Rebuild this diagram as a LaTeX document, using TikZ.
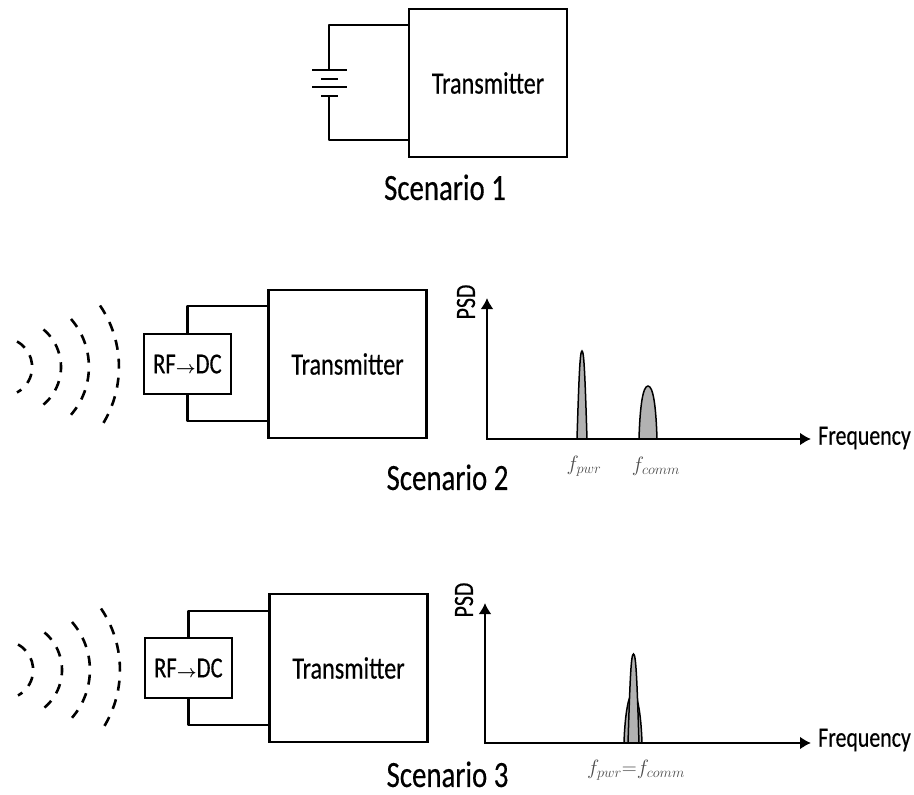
\documentclass[tikz,border=0pt]{standalone}
\usepackage{amsmath}
\usepackage{fontspec}
\setmainfont{Carlito}[FakeStretch=0.78,FakeBold=0.4]
\usepackage{tikz}
\usetikzlibrary{positioning,arrows.meta}

\tikzset{
	txbox/.style={draw, line width=2.6pt, minimum width=158pt, minimum height=148pt, inner sep=0pt, font=\fontsize{31}{31}\selectfont},
	rfbox/.style={draw, line width=2.6pt, minimum width=87pt, minimum height=60pt, inner sep=0pt, font=\fontsize{29}{29}\selectfont},
	caption/.style={inner sep=0pt, font=\fontsize{37}{37}\selectfont},
	axlabel/.style={inner sep=0pt, font=\fontsize{28}{28}\selectfont},
	freqlabel/.style={inner sep=0pt, text=black!70, font=\fontsize{21}{21}\selectfont},
	wire/.style={line width=2.6pt, line join=round},
	wavefront/.style={line width=2.6pt, dash pattern=on 10pt off 9pt},
	axis/.style={line width=2.6pt, {Latex[length=11pt,width=13pt]}-{Latex[length=11pt,width=13pt]}},
	peak/.style={draw=black, fill=black!30, line width=1.5pt},
}
\newcommand{\rfarrow}{{\fontsize{17}{17}\selectfont$\boldsymbol{\rightarrow}$}}

\begin{document}
\begin{tikzpicture}[x=1pt,y=-1pt]
	\useasboundingbox (0,0) rectangle (914,795);

	% scenario 1
	\node[txbox] (tx1) at (488,83) {Transmitter};
	\node[caption, below=16pt of tx1, xshift=-43pt] (scen1) {Scenario 1};
	\coordinate (battop) at (329,70);
	\coordinate (batbot) at (329,96);
	\draw[wire] ([yshift=58pt]tx1.west) -| (battop);
	\draw[wire] ([yshift=-57pt]tx1.west) -| (batbot);
	\draw[wire] (312,70) -- (347,70);
	\draw[wire] (321,79) -- (338,79);
	\draw[wire] (312,87) -- (347,87);
	\draw[wire] (321,96) -- (338,96);

	% scenario 2
	\node[txbox] (tx2) at (347.5,364) {Transmitter};
	\node[rfbox, left=35pt of tx2] (rfdc2) {RF\rfarrow DC};
	\node[caption, below=25pt of tx2, xshift=100pt] (scen2) {Scenario 2};
	\draw[wire] ([yshift=58pt]tx2.west) -| (rfdc2.north);
	\draw[wire] ([yshift=-57pt]tx2.west) -| (rfdc2.south);
	\draw[wavefront] (17,341.5) arc[start angle=-61.5, end angle=61.5, radius=29];
	\draw[wavefront] (43.5,329.5) arc[start angle=-50, end angle=50, radius=49];
	\draw[wavefront] (71,319) arc[start angle=-41, end angle=41, radius=73];
	\draw[wavefront] (100,305.5) arc[start angle=-34.3, end angle=34.3, radius=109];

	\coordinate (ytop2) at (487,298);
	\coordinate (xend2) at (811,439);
	\node[axlabel, rotate=90] (psd2) at (466,302) {PSD};
	\node[axlabel, right=7pt of xend2, yshift=1pt] (freq2) {Frequency};
	\draw[peak] (577,439) .. controls (579,375) and (580,351) .. (582,351) .. controls (584,351) and (585,375) .. (587,439);
	\draw[peak] (639,439) .. controls (640,405) and (643,386) .. (648,386) .. controls (653,386) and (656,405) .. (657,439);
	\draw[axis] (ytop2) |- (xend2);
	\node[freqlabel] (fpwr2) at (584,466) {$f_{pwr}$};
	\node[freqlabel] (fcomm2) at (656,466) {$f_{comm}$};

	% scenario 3
	\node[txbox] (tx3) at (348.5,668) {Transmitter};
	\node[rfbox, left=35pt of tx3] (rfdc3) {RF\rfarrow DC};
	\node[caption, below=18pt of tx3, xshift=99pt] (scen3) {Scenario 3};
	\draw[wire] ([yshift=57pt]tx3.west) -| (rfdc3.north);
	\draw[wire] ([yshift=-57pt]tx3.west) -| (rfdc3.south);
	\draw[wavefront] (18,644.5) arc[start angle=-61.5, end angle=61.5, radius=29];
	\draw[wavefront] (44.5,632.5) arc[start angle=-50, end angle=50, radius=49];
	\draw[wavefront] (72,622) arc[start angle=-41, end angle=41, radius=73];
	\draw[wavefront] (101,608.5) arc[start angle=-34.3, end angle=34.3, radius=109];

	\coordinate (ytop3) at (485,603);
	\coordinate (xend3) at (811,743);
	\node[axlabel, rotate=90] (psd3) at (464,600) {PSD};
	\node[axlabel, right=7pt of xend3, yshift=3pt] (freq3) {Frequency};
	\draw[peak] (624,743) .. controls (625,712) and (629,693) .. (633,693) .. controls (637,693) and (641,712) .. (642,743);
	\draw[peak] (628,743) .. controls (630,680) and (631,654) .. (633.5,654) .. controls (636,654) and (637,680) .. (639,743);
	\draw[axis] (ytop3) |- (xend3);
	\node[freqlabel] (fboth3) at (636,770) {$f_{pwr}{=}f_{comm}$};
\end{tikzpicture}
\end{document}
